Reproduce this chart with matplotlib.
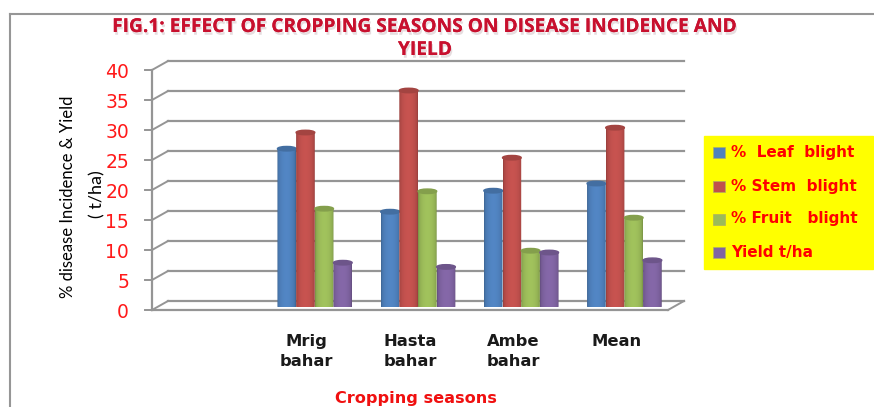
import numpy as np
import matplotlib
matplotlib.use('Agg')
import matplotlib.pyplot as plt
import matplotlib.patheffects as pe
from matplotlib.patches import Ellipse, Rectangle, Polygon
from matplotlib.transforms import ScaledTranslation, IdentityTransform
from matplotlib.colors import to_rgb

categories = ['', 'Mrig\nbahar', 'Hasta\nbahar', 'Ambe\nbahar', 'Mean']
series_names = ['%  Leaf  blight', '% Stem  blight', '% Fruit   blight', 'Yield t/ha']
leaf_blight = [None, 26.3, 15.8, 19.3, 20.5]
stem_blight = [None, 29.0, 36.0, 24.8, 29.8]
fruit_blight = [None, 16.3, 19.2, 9.3, 14.8]
yield_tha = [None, 7.3, 6.6, 9.0, 7.7]
y_ticks = [0, 5, 10, 15, 20, 25, 30, 35, 40]
colors = ['#4f81bd', '#c0504d', '#9bbb59', '#8064a2']

W, H = 874, 407
BASE = 306.5
PX_PER_UNIT = 6.0
grey = '#959595'

fig = plt.figure(figsize=(W / 100, H / 100), dpi=100)
fig.patch.set_facecolor('white')

# axes covers the plane the bars stand in, walls are offset from it
ax = fig.add_axes([160 / W, 1 - BASE / H, 516 / W, 240 / H])
ax.set_xlim(-0.5, 4.5)
ax.set_ylim(0, 40)
ax.patch.set_alpha(0)
for s in ax.spines.values():
    s.set_visible(False)
ax.set_xticks([])
ax.set_yticks([])


def px_offset(dx, dy):
    return ax.transData + ScaledTranslation(dx / 100, dy / 100, fig.dpi_scale_trans)


back = px_offset(8, 5.5)
front = px_offset(-8, -3.5)
pixels = IdentityTransform()
for v in y_ticks:
    ax.plot([-0.5, 4.5], [v, v], color=grey, lw=1.6, transform=back, clip_on=False, zorder=1)
    p0 = front.transform((-0.5, v))
    p1 = back.transform((-0.5, v))
    # slanted link from the front axis to the back wall
    ax.plot([p0[0], p1[0]], [p0[1], p1[1]], color=grey, lw=1.4, clip_on=False, transform=pixels, zorder=1)
    ax.plot([p0[0], p0[0] - 7], [p0[1], p0[1]], color=grey, lw=1.4, clip_on=False, transform=pixels)
    ax.text(p0[0] - 23, p0[1] - 2, str(v), color='#ff1a1a', fontsize=13.5, ha='right', va='center',
            family='DejaVu Sans', transform=pixels)

# front axis and floor
ax.plot([-0.5, -0.5], [0, 40], color=grey, lw=1.6, transform=front, clip_on=False, zorder=1)
ax.plot([-0.5, 4.5], [0, 0], color=grey, lw=1.6, transform=front, clip_on=False, zorder=1)
p0 = front.transform((4.5, 0))
p1 = back.transform((4.5, 0))
ax.plot([p0[0], p1[0]], [p0[1], p1[1]], color=grey, lw=1.4, clip_on=False, transform=pixels)

bar_w = 0.181
e_h = 4.5 / PX_PER_UNIT
all_series = [leaf_blight, stem_blight, fruit_blight, yield_tha]
z = 3
for i in range(1, len(categories)):
    for j, vals in enumerate(all_series):
        x0 = i + (j - 2) * bar_w
        v = vals[i]
        c = np.array(to_rgb(colors[j]))
        # shading across the cylinder, darker only near the edges
        t = np.linspace(0, 1, 40)
        shade = 0.76 + 0.28 * np.sin(np.pi * t) ** 0.4
        img = np.clip(c[None, None, :] * shade[None, :, None], 0, 1)
        # body outline with a rounded bottom
        ang = np.linspace(np.pi, 2 * np.pi, 30)
        ex = x0 + bar_w / 2 + bar_w / 2 * np.cos(ang)
        ey = e_h / 2 * np.sin(ang)
        outline = np.column_stack([np.r_[ex, x0 + bar_w, x0], np.r_[ey, v, v]])
        clip = Polygon(outline, closed=True, transform=ax.transData)
        im = ax.imshow(img, extent=[x0, x0 + bar_w, -e_h, v], aspect='auto', zorder=z, interpolation='bilinear')
        im.set_clip_path(clip)
        im.set_clip_on(True)
        ax.add_patch(Ellipse((x0 + bar_w / 2, v), bar_w, e_h, color=c * 0.85, zorder=z + 0.5, clip_on=False))
        z += 1
ax.set_xlim(-0.5, 4.5)
ax.set_ylim(0, 40)

# outer chart border, open at the right side
fig.add_artist(plt.Line2D([9.5 / W, 9.5 / W], [1 - 13.5 / H, 0], color='#969696', lw=1.5))
fig.add_artist(plt.Line2D([9.5 / W, 1], [1 - 13.5 / H, 1 - 13.5 / H], color='#969696', lw=1.5))

for i, lab in enumerate(categories):
    px = 160 + 103.2 * (i + 0.5) - 8
    fig.text(px / W, 1 - 334 / H, lab, ha='center', va='top', fontsize=11.8, fontweight='bold',
             color='#1a1a1a', linespacing=1.45, family='DejaVu Sans')

fig.text(416 / W, 1 - 398 / H, 'Cropping seasons', ha='center', va='center', fontsize=11.6,
         fontweight='bold', color='#f01010', family='DejaVu Sans')

title_fx = [pe.withSimplePatchShadow(offset=(1, -2), shadow_rgbFace='#c8b4ba', alpha=0.45), pe.Normal()]
for txt, py in [('FIG.1: EFFECT OF CROPPING SEASONS ON DISEASE INCIDENCE AND', 27), ('YIELD', 50)]:
    fig.text(425 / W, 1 - py / H, txt, ha='center', va='center', fontsize=13.8, fontweight='bold',
             color='#c8102e', family='Open Sans', path_effects=title_fx)

fig.text(68 / W, 1 - 197 / H, '% disease Incidence & Yield', rotation=90, ha='center', va='center',
         fontsize=12, color='black', family='Lato')
fig.text(97 / W, 1 - 194 / H, '( t/ha)', rotation=90, ha='center', va='center',
         fontsize=13, color='black', family='Lato')

# yellow legend box drawn by hand as in the source
fig.add_artist(Rectangle((704 / W, 1 - 269 / H), 169 / W, 133 / H, color='#ffff00',
                         transform=fig.transFigure, zorder=2))
for name, c, py in zip(series_names, colors, [152.5, 186, 219, 252.5]):
    fig.add_artist(Rectangle((713 / W, 1 - (py + 5.5) / H), 12 / W, 11 / H, facecolor=c, edgecolor='#b0b060',
                             lw=0.5, transform=fig.transFigure, zorder=3))
    fig.text(731 / W, 1 - py / H, name, ha='left', va='center', fontsize=11, fontweight='bold',
             color='#ff0000', family='DejaVu Sans', zorder=4)

fig.savefig('out.png', dpi=100)
